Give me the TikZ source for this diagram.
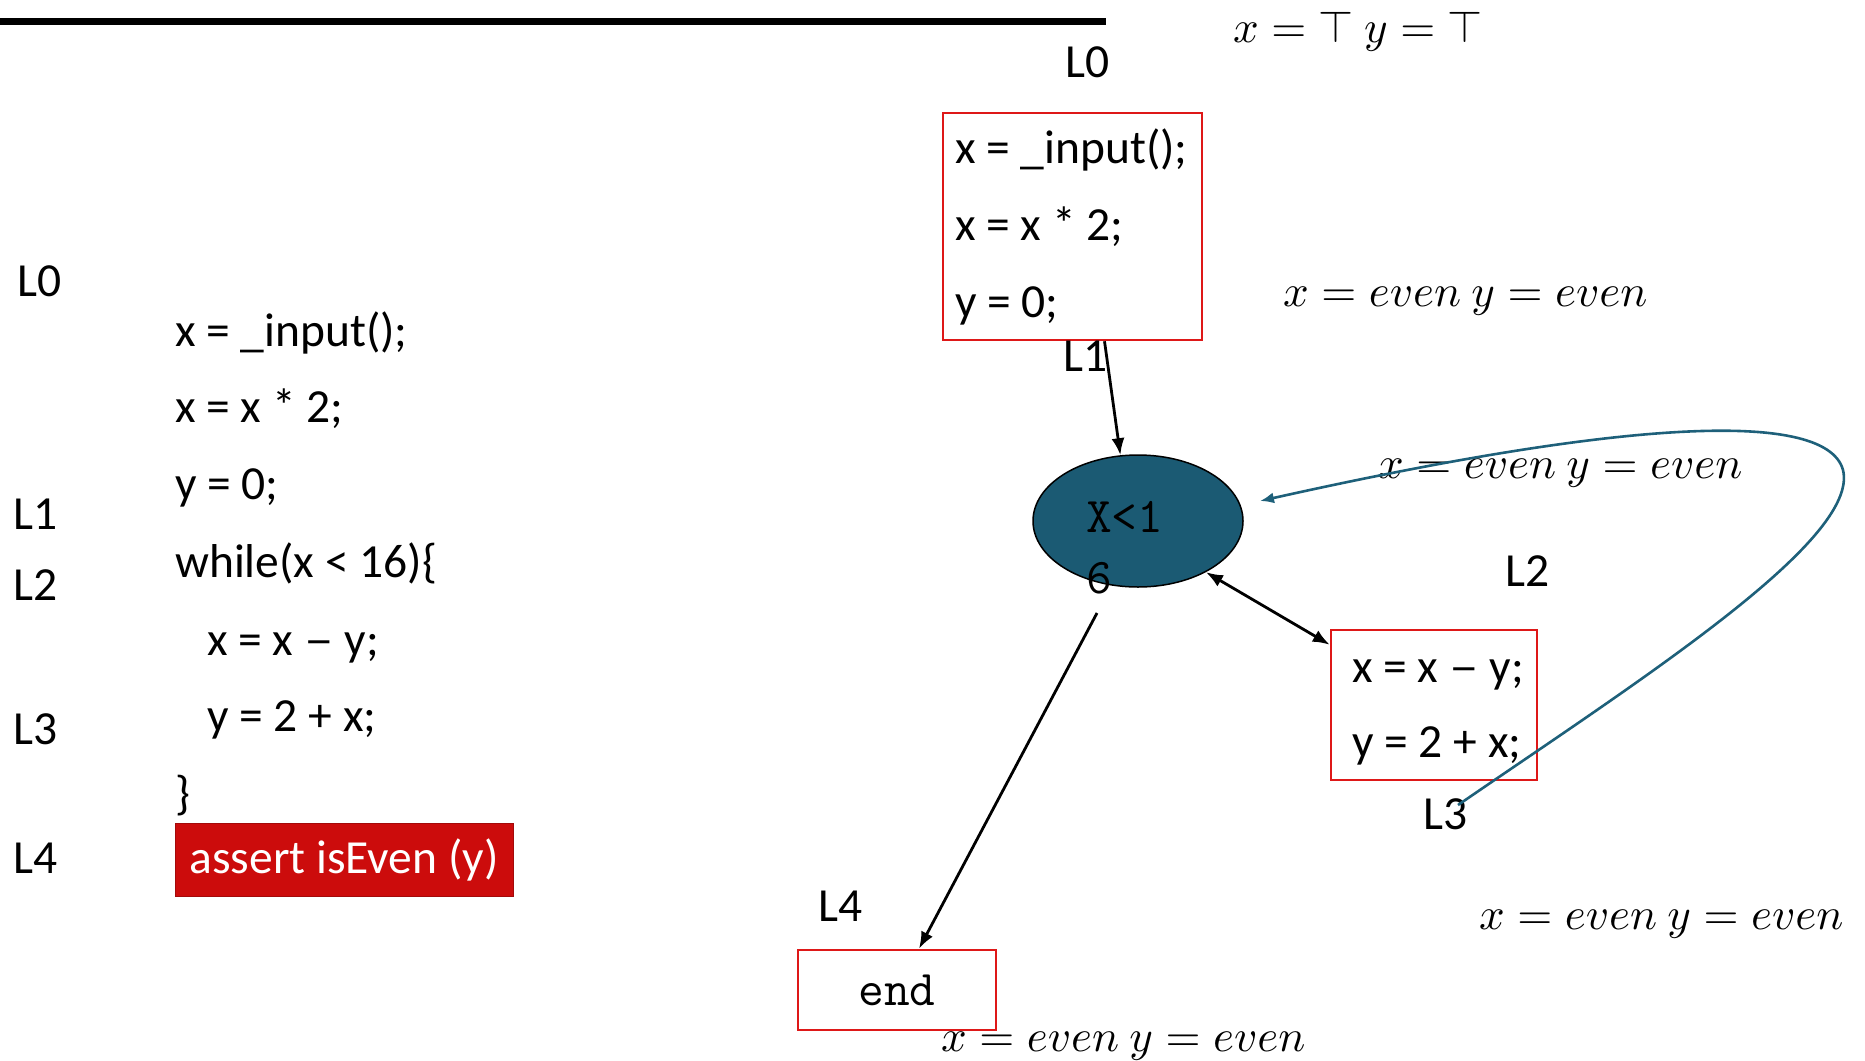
\documentclass[tikz,border=0pt]{standalone}
\usepackage[no-math]{fontspec}
\setmainfont{Carlito}
\usetikzlibrary{shapes.geometric,arrows.meta}
\definecolor{tealfill}{RGB}{27,90,115}
\definecolor{boxred}{RGB}{222,24,24}
\definecolor{assertred}{RGB}{204,12,12}
\definecolor{curveteal}{RGB}{30,96,122}
\newcommand{\mybigmath}[1]{\scalebox{4.5}{$#1$}}
\newcommand{\longdash}{\scalebox{1.25}[1]{\textendash}}
\begin{document}
\begin{tikzpicture}[x=1pt,y=-1pt,
  code/.style={font=\fontsize{47.5}{55}\selectfont, inner sep=0pt, anchor=west, text height=28pt, text depth=0pt},
  lab/.style={code, anchor=center},
  mth/.style={inner sep=0pt, anchor=base west},
  redbox/.style={draw=boxred, line width=2.5pt, inner sep=0pt},
  arr/.style={-{Latex[length=17pt,width=13pt]}, line width=2.8pt},
  darr/.style={{Latex[length=17pt,width=13pt]}-{Latex[length=17pt,width=13pt]}, line width=2.8pt},
  tarr/.style={-{Latex[length=14pt,width=11pt]}, line width=2.6pt, draw=curveteal},
]
\useasboundingbox (0,0) rectangle (1865,1060);

% top rule
\draw[line width=7pt] (0,21) coordinate (ruleL) -- (1106,21) coordinate (ruleR);

% ---------- left code listing ----------
\node[lab] (lL0) at (40,282) {L0};
\node[lab] (lL1) at (36,515) {L1};
\node[lab] (lL2) at (36,586) {L2};
\node[lab] (lL3) at (36,730) {L3};
\node[lab] (lL4) at (36,859) {L4};

\node[code] (c1) at (175,332) {x = \_input();};
\node[code] (c2) at (175,408) {x = x * 2;};
\node[code] (c3) at (175,485) {y = 0;};
\node[code] (c4) at (175,563) {while(x < 16)\{};
\node[code] (c5) at (207,641) {x = x \longdash\ y;};
\node[code] (c6) at (207,717) {y = 2 + x;};
\node[code] (c7) at (175,795) {\}};
\node[fill=assertred, draw=assertred!80!black, line width=1pt, minimum width=338pt, minimum height=73pt,
      text=white, font=\fontsize{47.5}{55}\selectfont, inner sep=0pt] (assert) at (344,860) {assert isEven (y)};

% ---------- right CFG ----------
\node[mth] (mtop) at (1233,42) {\mybigmath{x = \top\ y = \top}};
\node[lab] (rL0) at (1088,63) {L0};

\node[redbox, minimum width=259pt, minimum height=227pt] (b1) at (1072.5,226.5) {};
\node[code] (b1a) at (955,149) {x = \_input();};
\node[code] (b1b) at (955,226) {x = x * 2;};
\node[code] (b1c) at (955,303) {y = 0;};

\node[mth] (m1) at (1283,306) {\mybigmath{x = even\ y = even}};
\node[lab] (rL1) at (1086,357) {L1};

\node[ellipse, draw=black, line width=1.5pt, fill=tealfill, minimum width=210pt, minimum height=132pt, inner sep=0pt] (ell) at (1138,521) {};
\node[font=\ttfamily\fontsize{50}{61}\selectfont, align=left, inner sep=0pt, anchor=north west] (cond) at (1086,501) {X<1\\6};

\node[mth] (m2) at (1378,478) {\mybigmath{x = even\ y = even}};
\node[lab] (rL2) at (1528,572) {L2};

\node[redbox, minimum width=206pt, minimum height=150pt] (b2) at (1434,705) {};
\node[code] (b2a) at (1352,668) {x = x \longdash\ y;};
\node[code] (b2b) at (1352,743) {y = 2 + x;};
\node[lab] (rL3) at (1446,815) {L3};

\node[lab] (rL4) at (841,907) {L4};
\node[redbox, minimum width=198pt, minimum height=80pt, font=\ttfamily\fontsize{50}{55}\selectfont] (endb) at (897,990) {end};

\node[mth] (m3) at (1479,929) {\mybigmath{x = even\ y = even}};
\node[mth] (m4) at (941,1051) {\mybigmath{x = even\ y = even}};

% connectors
\draw[arr] ([xshift=32pt]b1.south) -- (ell.105);
\draw[darr] (ell.-37) -- ([yshift=-16pt]b2.north west);
\coordinate (downstart) at (1097,613);
\draw[arr] (downstart) -- ([xshift=22pt]endb.north);
\coordinate (loopstart) at (1458,805);
\coordinate (loopend) at (1260,501);
\draw[tarr] (loopstart) .. controls (1640,680) and (1860,540) .. (1843,470)
                        .. controls (1825,405) and (1600,425) .. (loopend);
\end{tikzpicture}
\end{document}
